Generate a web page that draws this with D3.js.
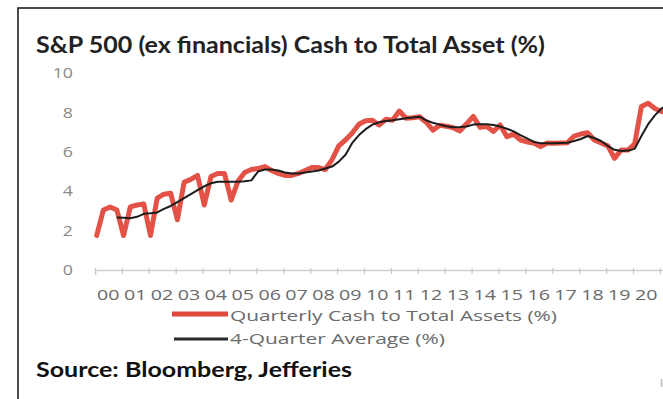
<!DOCTYPE html>
<html>
<head>
<meta charset="utf-8">
<script src="https://cdn.jsdelivr.net/npm/d3@7/dist/d3.min.js"></script>
<style>
  html, body { margin: 0; padding: 0; background: #fff; }
  svg { display: block; }
</style>
</head>
<body>
<script>
// ---- data (quarterly, starting 2000 Q1) ----
const startYear = 2000;
const quarterly = [
  1.75, 3.05, 3.2, 3.05,   // 2000
  1.75, 3.2, 3.3, 3.35,    // 2001
  1.75, 3.65, 3.85, 3.9,   // 2002
  2.55, 4.45, 4.6, 4.8,    // 2003
  3.3, 4.75, 4.9, 4.9,     // 2004
  3.55, 4.5, 4.95, 5.1,    // 2005
  5.15, 5.25, 5.05, 4.9,   // 2006
  4.8, 4.8, 4.9, 5.05,     // 2007
  5.2, 5.2, 5.1, 5.6,      // 2008
  6.3, 6.6, 6.95, 7.4,     // 2009
  7.58, 7.6, 7.36, 7.65,   // 2010
  7.6, 8.07, 7.7, 7.73,    // 2011
  7.78, 7.5, 7.1, 7.35,    // 2012
  7.3, 7.22, 7.06, 7.42,   // 2013
  7.8, 7.25, 7.28, 7.03,   // 2014
  7.36, 6.77, 6.9, 6.6,    // 2015
  6.5, 6.45, 6.27, 6.45,   // 2016
  6.43, 6.45, 6.46, 6.8,   // 2017
  6.9, 6.97, 6.6, 6.45,    // 2018
  6.3, 5.67, 6.09, 6.09,   // 2019
  6.4, 8.3, 8.46, 8.2,     // 2020
  8.05, 8.0                // 2021
];
// 4-quarter average, first value at 2000 Q4
const avgStartIndex = 3;
const average = [
  2.67,
  2.65, 2.63, 2.7, 2.85,
  2.88, 2.92, 3.1, 3.25,
  3.45, 3.65, 3.85, 4.05,
  4.25, 4.4, 4.48, 4.48,
  4.48, 4.48, 4.5, 4.55,
  5.0, 5.1, 5.1, 5.05,
  4.95, 4.9, 4.9, 4.95,
  5.0, 5.05, 5.15, 5.25,
  5.5, 5.85, 6.45, 6.85,
  7.15, 7.38, 7.5, 7.56,
  7.6, 7.65, 7.7, 7.74,
  7.78, 7.6, 7.47, 7.38,
  7.3, 7.25, 7.26, 7.28,
  7.38, 7.4, 7.4, 7.36,
  7.28, 7.17, 7.04, 6.85,
  6.68, 6.5, 6.44, 6.43,
  6.43, 6.45, 6.46, 6.55,
  6.65, 6.8, 6.7, 6.55,
  6.3, 6.1, 6.04, 6.06,
  6.15, 6.8, 7.4, 7.85,
  8.2, 8.45
];
const yTicks = [0, 2, 4, 6, 8, 10];
const yearLabels = ["00","01","02","03","04","05","06","07","08","09","10",
                    "11","12","13","14","15","16","17","18","19","20","21"];
const titleText = "S&P 500 (ex financials) Cash to Total Asset (%)";
const sourceText = "Source: Bloomberg, Jefferies";
const legendItems = ["Quarterly Cash to Total Assets (%)", "4-Quarter Average (%)"];

// ---- drawing ----
const W = 663, H = 399;
const svg = d3.select("body").append("svg").attr("width", W).attr("height", H);
svg.append("rect").attr("width", W).attr("height", H).attr("fill", "#fff");

// frame
svg.append("path").attr("d", `M18,${H} L18,8 L${W},8`)
  .attr("fill", "none").attr("stroke", "#111").attr("stroke-width", 1.5);

// title
svg.append("text").attr("x", 36).attr("y", 53)
  .attr("font-family", "Lato, 'Open Sans', sans-serif").attr("font-weight", "bold")
  .attr("font-size", 23).attr("fill", "#222")
  .attr("textLength", 509).attr("lengthAdjust", "spacingAndGlyphs")
  .text(titleText);

const x = d3.scaleLinear().domain([2000, 2022]).range([95, 95 + 22 * 26.9]);
const y = d3.scaleLinear().domain([0, 10]).range([270, 73]);

const plot = svg.append("g");

// y labels
plot.selectAll("text.ylab").data(yTicks).enter().append("text")
  .attr("class", "ylab")
  .attr("x", 73).attr("y", d => y(d)).attr("dy", "0.35em")
  .attr("text-anchor", "end")
  .attr("font-family", "'Open Sans', sans-serif").attr("font-size", 15)
  .attr("fill", "#8a8a8a")
  .attr("transform", `translate(73,0) scale(1.18,1) translate(-73,0)`)
  .text(d => d);

// x axis
const years = d3.range(2000, 2023);
const xAxis = d3.axisBottom(x).tickValues(years).tickSize(5).tickFormat("");
const gx = plot.append("g").attr("transform", `translate(0,${y(0)})`).call(xAxis);
gx.select(".domain").attr("stroke", "#cfcfcf").attr("stroke-width", 1.5);
gx.selectAll(".tick line").attr("stroke", "#c8c8c8").attr("stroke-width", 1.2).attr("y1", -2).attr("y2", 4);

plot.selectAll("text.xlab").data(yearLabels).enter().append("text")
  .attr("class", "xlab")
  .attr("x", (d, i) => x(startYear + i) + 2)
  .attr("y", 299.5)
  .attr("font-family", "'Open Sans', sans-serif").attr("font-size", 14.5)
  .attr("fill", "#6a6a6a")
  .attr("textLength", 22.5).attr("lengthAdjust", "spacingAndGlyphs")
  .text(d => d);

// lines
const line = d3.line()
  .x(d => x(d.t)).y(d => y(d.v));

const qData = quarterly.map((v, i) => ({ t: startYear + (i + 0.25) / 4, v }));
const aData = average.map((v, i) => ({ t: startYear + (i + avgStartIndex + 0.25) / 4, v }));

plot.append("path").datum(qData).attr("d", line)
  .attr("fill", "none").attr("stroke", "#e0493c").attr("stroke-width", 5)
  .attr("stroke-linejoin", "round").attr("stroke-linecap", "round")
  .attr("opacity", 0.95);
plot.append("path").datum(aData).attr("d", line)
  .attr("fill", "none").attr("stroke", "#1c1c1c").attr("stroke-width", 2)
  .attr("stroke-linejoin", "round");

// legend
const leg = svg.append("g");
leg.append("line").attr("x1", 172).attr("x2", 228).attr("y1", 314).attr("y2", 314)
  .attr("stroke", "#e0493c").attr("stroke-width", 5);
leg.append("text").attr("x", 230).attr("y", 320.5)
  .attr("font-family", "'Open Sans', sans-serif").attr("font-size", 15)
  .attr("fill", "#6a6a6a")
  .attr("textLength", 327).attr("lengthAdjust", "spacingAndGlyphs")
  .text(legendItems[0]);
leg.append("line").attr("x1", 174).attr("x2", 228).attr("y1", 339).attr("y2", 339)
  .attr("stroke", "#2a2a2a").attr("stroke-width", 3);
leg.append("text").attr("x", 230).attr("y", 344)
  .attr("font-family", "'Open Sans', sans-serif").attr("font-size", 14)
  .attr("fill", "#6a6a6a")
  .attr("textLength", 215).attr("lengthAdjust", "spacingAndGlyphs")
  .text(legendItems[1]);

// source
svg.append("text").attr("x", 36).attr("y", 377)
  .attr("font-family", "Lato, 'Open Sans', sans-serif").attr("font-weight", "bold")
  .attr("font-size", 21).attr("fill", "#111")
  .attr("textLength", 316).attr("lengthAdjust", "spacingAndGlyphs")
  .text(sourceText);

// small mark at bottom right
svg.append("line").attr("x1", 661.5).attr("x2", 661.5).attr("y1", 379).attr("y2", 387)
  .attr("stroke", "#bbb").attr("stroke-width", 1.5);
</script>
</body>
</html>
